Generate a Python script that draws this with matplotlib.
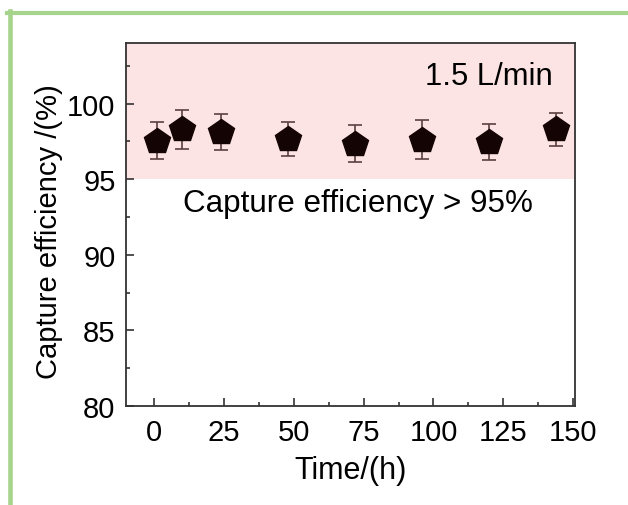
import matplotlib
matplotlib.use("Agg")
import matplotlib.pyplot as plt
from matplotlib.lines import Line2D
from matplotlib.ticker import MultipleLocator

plt.rcParams['font.family'] = ['Liberation Sans', 'DejaVu Sans']

time_h = [1, 10, 24, 48, 72, 96, 120, 144]
efficiency = [97.55, 98.3, 98.1, 97.65, 97.35, 97.6, 97.45, 98.3]
error = [1.2, 1.3, 1.2, 1.1, 1.2, 1.3, 1.2, 1.1]
xticks = [0, 25, 50, 75, 100, 125, 150]
yticks = [80, 85, 90, 95, 100]

fig = plt.figure(figsize=(6.28, 5.06), dpi=100)
ax = fig.add_axes([0.2006, 0.1957, 0.915 - 0.2006, 0.913 - 0.1957])

ax.axhspan(95, 104, color='#fde4e4', zorder=0, lw=0)
ax.errorbar(time_h, efficiency, yerr=error, fmt='none', ecolor='#5b4040',
            elinewidth=1.2, capsize=5, capthick=1.2, zorder=2)
ax.plot(time_h, efficiency, linestyle='none', marker='p', markersize=19,
        markerfacecolor='#140404', markeredgecolor='#140404', zorder=3)

ax.set_xlim(-10, 150.5)
ax.set_ylim(80, 104)
ax.set_xticks(xticks)
ax.set_yticks(yticks)
ax.xaxis.set_minor_locator(MultipleLocator(12.5))
ax.yaxis.set_minor_locator(MultipleLocator(2.5))
ax.tick_params(which='both', direction='in', labelsize=21, color='#333333')
ax.tick_params(which='major', length=6, width=1.2)
ax.tick_params(which='minor', length=3, width=1.2)
ax.tick_params(axis='x', which='major', pad=9)
ax.tick_params(axis='y', which='major', pad=7.5)
for s in ax.spines.values():
    s.set_color('#333333')
    s.set_linewidth(1.3)

ax.set_xlabel('Time/(h)', fontsize=22, labelpad=6)
ax.set_ylabel('Capture efficiency /(%)', fontsize=21)
ax.yaxis.set_label_coords(-0.14, 0.483)

ax.text(120, 101.8, '1.5 L/min', fontsize=22.3, ha='center', va='center')
ax.text(73, 93.4, 'Capture efficiency > 95%', fontsize=22.6, ha='center', va='center')

green = '#a6d48c'
fig.add_artist(Line2D([7 / 628, 1.0], [1 - 14 / 506] * 2, color=green, lw=3, transform=fig.transFigure))
fig.add_artist(Line2D([10 / 628] * 2, [0, 1 - 12 / 506], color=green, lw=3.3, transform=fig.transFigure))

fig.savefig('out.png', dpi=100)
